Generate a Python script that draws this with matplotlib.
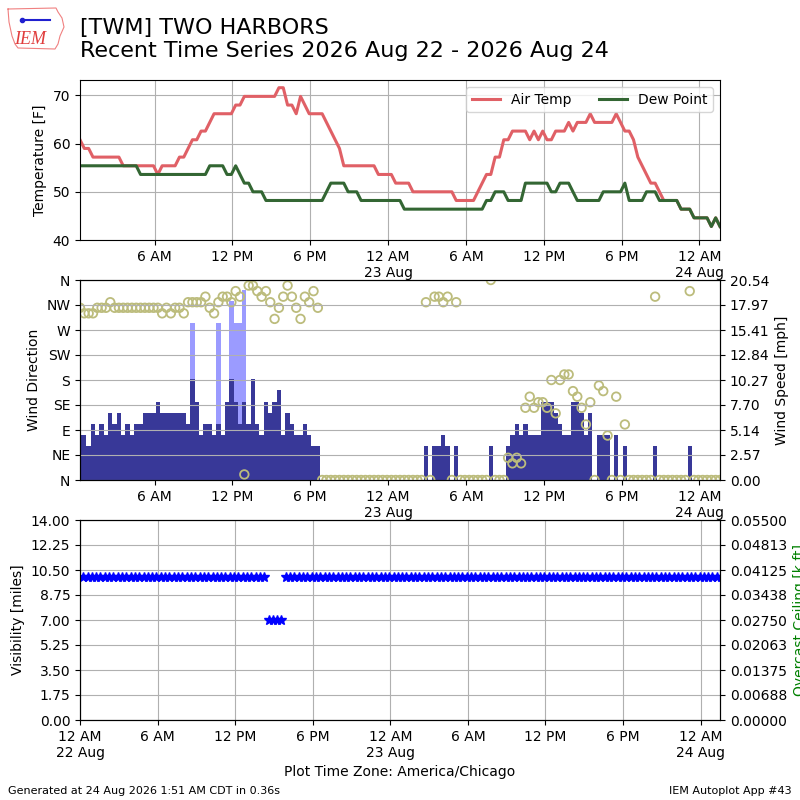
import numpy as np
import pandas as pd
import matplotlib
matplotlib.use("Agg")
import matplotlib.pyplot as plt
import matplotlib.dates as mdates
from matplotlib.lines import Line2D
from matplotlib.ticker import FuncFormatter, FormatStrFormatter

# observation times (every 20 minutes, local time)
obs_times = pd.date_range("2026-08-22 00:15", "2026-08-24 01:35", freq="20min")

tmpf = [
    60.8, 59.0, 59.0, 57.2, 57.2, 57.2, 57.2, 57.2, 57.2, 57.2,
    55.4, 55.4, 55.4, 55.4, 55.4, 55.4, 55.4, 55.4, 53.6, 55.4,
    55.4, 55.4, 55.4, 57.2, 57.2, 59.0, 60.8, 60.8, 62.6, 62.6,
    64.4, 66.2, 66.2, 66.2, 66.2, 66.2, 68.0, 68.0, 69.8, 69.8,
    69.8, 69.8, 69.8, 69.8, 69.8, 69.8, 71.6, 71.6, 68.0, 68.0,
    66.2, 69.8, 68.0, 66.2, 66.2, 66.2, 66.2, 64.4, 62.6, 60.8,
    59.0, 55.4, 55.4, 55.4, 55.4, 55.4, 55.4, 55.4, 55.4, 53.6,
    53.6, 53.6, 53.6, 51.8, 51.8, 51.8, 51.8, 50.0, 50.0, 50.0,
    50.0, 50.0, 50.0, 50.0, 50.0, 50.0, 50.0, 48.2, 48.2, 48.2,
    48.2, 48.2, 50.0, 51.8, 53.6, 53.6, 57.2, 57.2, 60.8, 60.8,
    62.6, 62.6, 62.6, 62.6, 60.8, 62.6, 60.8, 62.6, 60.8, 60.8,
    62.6, 62.6, 62.6, 64.4, 62.6, 64.4, 64.4, 64.4, 66.2, 64.4,
    64.4, 64.4, 64.4, 64.4, 66.2, 64.4, 62.6, 62.6, 60.8, 57.2,
    55.4, 53.6, 51.8, 51.8, 50.0, 48.2, 48.2, 48.2, 48.2, 46.4,
    46.4, 46.4, 44.6, 44.6, 44.6, 44.6, 42.8, 44.6, 42.8,
]

dwpf = [
    55.4, 55.4, 55.4, 55.4, 55.4, 55.4, 55.4, 55.4, 55.4, 55.4,
    55.4, 55.4, 55.4, 55.4, 53.6, 53.6, 53.6, 53.6, 53.6, 53.6,
    53.6, 53.6, 53.6, 53.6, 53.6, 53.6, 53.6, 53.6, 53.6, 53.6,
    55.4, 55.4, 55.4, 55.4, 53.6, 53.6, 55.4, 53.6, 51.8, 51.8,
    50.0, 50.0, 50.0, 48.2, 48.2, 48.2, 48.2, 48.2, 48.2, 48.2,
    48.2, 48.2, 48.2, 48.2, 48.2, 48.2, 48.2, 50.0, 51.8, 51.8,
    51.8, 51.8, 50.0, 50.0, 50.0, 48.2, 48.2, 48.2, 48.2, 48.2,
    48.2, 48.2, 48.2, 48.2, 48.2, 46.4, 46.4, 46.4, 46.4, 46.4,
    46.4, 46.4, 46.4, 46.4, 46.4, 46.4, 46.4, 46.4, 46.4, 46.4,
    46.4, 46.4, 46.4, 46.4, 48.2, 48.2, 50.0, 50.0, 50.0, 48.2,
    48.2, 48.2, 48.2, 51.8, 51.8, 51.8, 51.8, 51.8, 51.8, 50.0,
    50.0, 51.8, 51.8, 51.8, 50.0, 48.2, 48.2, 48.2, 48.2, 48.2,
    48.2, 50.0, 50.0, 50.0, 50.0, 50.0, 51.8, 48.2, 48.2, 48.2,
    48.2, 50.0, 50.0, 50.0, 48.2, 48.2, 48.2, 48.2, 48.2, 46.4,
    46.4, 46.4, 44.6, 44.6, 44.6, 44.6, 42.8, 44.6, 42.8,
]

# wind speed [knots]
sknt = [
    4, 4, 3, 5, 4, 5, 4, 6, 5, 6,
    4, 5, 4, 5, 5, 6, 6, 6, 7, 6,
    6, 6, 6, 6, 6, 5, 9, 7, 4, 5,
    5, 4, 5, 4, 7, 9, 7, 5, 7, 5,
    9, 5, 4, 7, 6, 7, 8, 4, 6, 5,
    4, 4, 5, 4, 3, 3, 0, 0, 0, 0,
    0, 0, 0, 0, 0, 0, 0, 0, 0, 0,
    0, 0, 0, 0, 0, 0, 0, 0, 0, 0,
    3, 0, 3, 3, 4, 3, 0, 3, 0, 0,
    0, 0, 0, 0, 0, 3, 0, 0, 0, 3,
    4, 5, 4, 5, 4, 4, 4, 7, 7, 7,
    6, 5, 4, 4, 7, 7, 6, 4, 6, 0,
    4, 4, 4, 0, 4, 0, 3, 0, 0, 0,
    0, 0, 0, 3, 0, 0, 0, 0, 0, 0,
    0, 3, 0, 0, 0, 0, 0, 0, 0,
]

# wind direction [deg], 0 when calm
drct = [
    310, 300, 300, 300, 310, 310, 310, 320, 310, 310,
    310, 310, 310, 310, 310, 310, 310, 310, 310, 300,
    310, 300, 310, 310, 300, 320, 320, 320, 320, 330,
    310, 300, 320, 330, 330, 320, 340, 330, 10, 350,
    350, 340, 330, 340, 320, 290, 310, 330, 350, 330,
    310, 290, 330, 320, 340, 310, 0, 0, 0, 0,
    0, 0, 0, 0, 0, 0, 0, 0, 0, 0,
    0, 0, 0, 0, 0, 0, 0, 0, 0, 0,
    320, 0, 330, 330, 320, 330, 0, 320, 0, 0,
    0, 0, 0, 0, 0, 360, 0, 0, 0, 40,
    30, 40, 30, 130, 150, 130, 140, 140, 130, 180,
    120, 180, 190, 190, 160, 150, 130, 100, 140, 0,
    170, 160, 80, 0, 150, 0, 100, 0, 0, 0,
    0, 0, 0, 330, 0, 0, 0, 0, 0, 0,
    0, 340, 0, 0, 0, 0, 0, 0, 0,
]

# gusts: observation index and gust [knots]
gust_obs = [26, 32, 35, 36, 37, 38]
gust_kt = [14, 14, 16, 14, 14, 17]

# visibility [miles]
vsby = [10.0] * 43 + [7.0] * 4 + [10.0] * 102

KT2MPH = 1.15078
smph = np.array(sknt) * KT2MPH
gust_mph = np.array(gust_kt) * KT2MPH
gust_times = obs_times[gust_obs]


def time_label(x, pos=None):
    dt = mdates.num2date(x + 1e-6)
    hr = dt.hour
    lbl = "%d %s" % (hr % 12 or 12, "AM" if hr < 12 else "PM")
    if hr == 0:
        lbl += "\n%d %s" % (dt.day, dt.strftime("%b"))
    return lbl


def setup_xaxis(ax):
    ax.xaxis.set_major_locator(mdates.HourLocator(byhour=[0, 6, 12, 18]))
    ax.xaxis.set_major_formatter(FuncFormatter(time_label))


fig = plt.figure(figsize=(8, 8), dpi=100)

fig.text(0.1, 0.978, "[TWM] TWO HARBORS\nRecent Time Series 2026 Aug 22 - 2026 Aug 24",
         fontsize=16, va="top", ha="left")

# rough IEM logo: state outline, station symbol and text
outline_x = [8, 56, 58, 62, 64, 60, 58, 55, 18, 15, 12, 9, 8]
outline_y = [9, 8, 12, 18, 27, 36, 44, 49, 48, 44, 36, 22, 9]
fig.add_artist(Line2D([x / 800.0 for x in outline_x], [1 - y / 800.0 for y in outline_y],
                      transform=fig.transFigure, color="#f08080", lw=0.8))
fig.add_artist(Line2D([22 / 800.0, 50 / 800.0], [1 - 20 / 800.0, 1 - 20 / 800.0],
                      transform=fig.transFigure, color="#2020d0", lw=1.5))
fig.add_artist(Line2D([22 / 800.0], [1 - 20 / 800.0], marker="o", ms=3,
                      transform=fig.transFigure, color="#2020d0"))
fig.text(0.018, 0.945, "IEM", fontsize=13, color="#e03c3c", style="italic",
         family="Liberation Serif")

# --- temperature panel
ax1 = fig.add_axes([0.1, 0.7, 0.8, 0.2])
ax1.plot(obs_times, tmpf, color="#e06066", lw=2.2, label="Air Temp")
ax1.plot(obs_times, dwpf, color="#336633", lw=2.2, label="Dew Point")
ax1.set_ylim(40, 73.2)
ax1.set_yticks([40, 50, 60, 70])
ax1.set_ylabel("Temperature [F]")
ax1.set_xlim(obs_times[0], obs_times[-1])
setup_xaxis(ax1)
ax1.grid(True)
ax1.legend(loc="upper right", ncol=2)

# --- wind panel: speed bars underneath, direction circles on top
ax2s = fig.add_axes([0.1, 0.4, 0.8, 0.25])
ax2 = ax2s.twinx()

ax2s.bar(gust_times, gust_mph, width=1 / 72.0, color="#9b9bff", lw=0)
ax2s.bar(obs_times, smph, width=1 / 72.0, color="#383898", lw=0)
ymax = gust_mph.max() * 1.05
ax2s.set_ylim(0, ymax)
ax2s.set_yticks(np.linspace(0, ymax, 9))
ax2s.yaxis.set_major_formatter(FormatStrFormatter("%.2f"))
ax2s.yaxis.tick_right()
ax2s.yaxis.set_label_position("right")
ax2s.set_ylabel("Wind Speed [mph]")

ax2.yaxis.tick_left()
ax2.yaxis.set_label_position("left")
ax2.set_zorder(ax2s.get_zorder() + 1)
ax2.patch.set_visible(False)
ax2.scatter(obs_times, drct, s=38, facecolors="none", edgecolors="#bcbc7c",
            linewidths=1.3)
ax2.set_ylim(0, 360)
ax2.set_yticks(range(0, 361, 45))
ax2.set_yticklabels(["N", "NE", "E", "SE", "S", "SW", "W", "NW", "N"])
ax2.set_ylabel("Wind Direction")
ax2.grid(True)
ax2s.set_xlim(obs_times[0], obs_times[-1])
setup_xaxis(ax2s)

# --- visibility panel
ax3 = fig.add_axes([0.1, 0.1, 0.8, 0.25])
ax3.plot(obs_times, vsby, "*", color="b", ms=7, linestyle="")
ax3.set_ylim(0, 14)
ax3.set_yticks(np.linspace(0, 14, 9))
ax3.yaxis.set_major_formatter(FormatStrFormatter("%.2f"))
ax3.set_ylabel("Visibility [miles]")
ax3.set_xlim(pd.Timestamp("2026-08-22 00:00"), pd.Timestamp("2026-08-24 01:30"))
setup_xaxis(ax3)
ax3.grid(True)
ax3.set_xlabel("Plot Time Zone: America/Chicago")

ax3b = ax3.twinx()
ax3b.set_ylim(0, 0.055)
ax3b.set_yticks(np.linspace(0, 0.055, 9))
ax3b.yaxis.set_major_formatter(FormatStrFormatter("%.5f"))
ax3b.set_ylabel("Overcast Ceiling [k ft]", color="g")

fig.text(0.01, 0.008, "Generated at 24 Aug 2026 1:51 AM CDT in 0.36s", fontsize=8)
fig.text(0.99, 0.008, "IEM Autoplot App #43", fontsize=8, ha="right")

fig.savefig("out.png", dpi=100)
